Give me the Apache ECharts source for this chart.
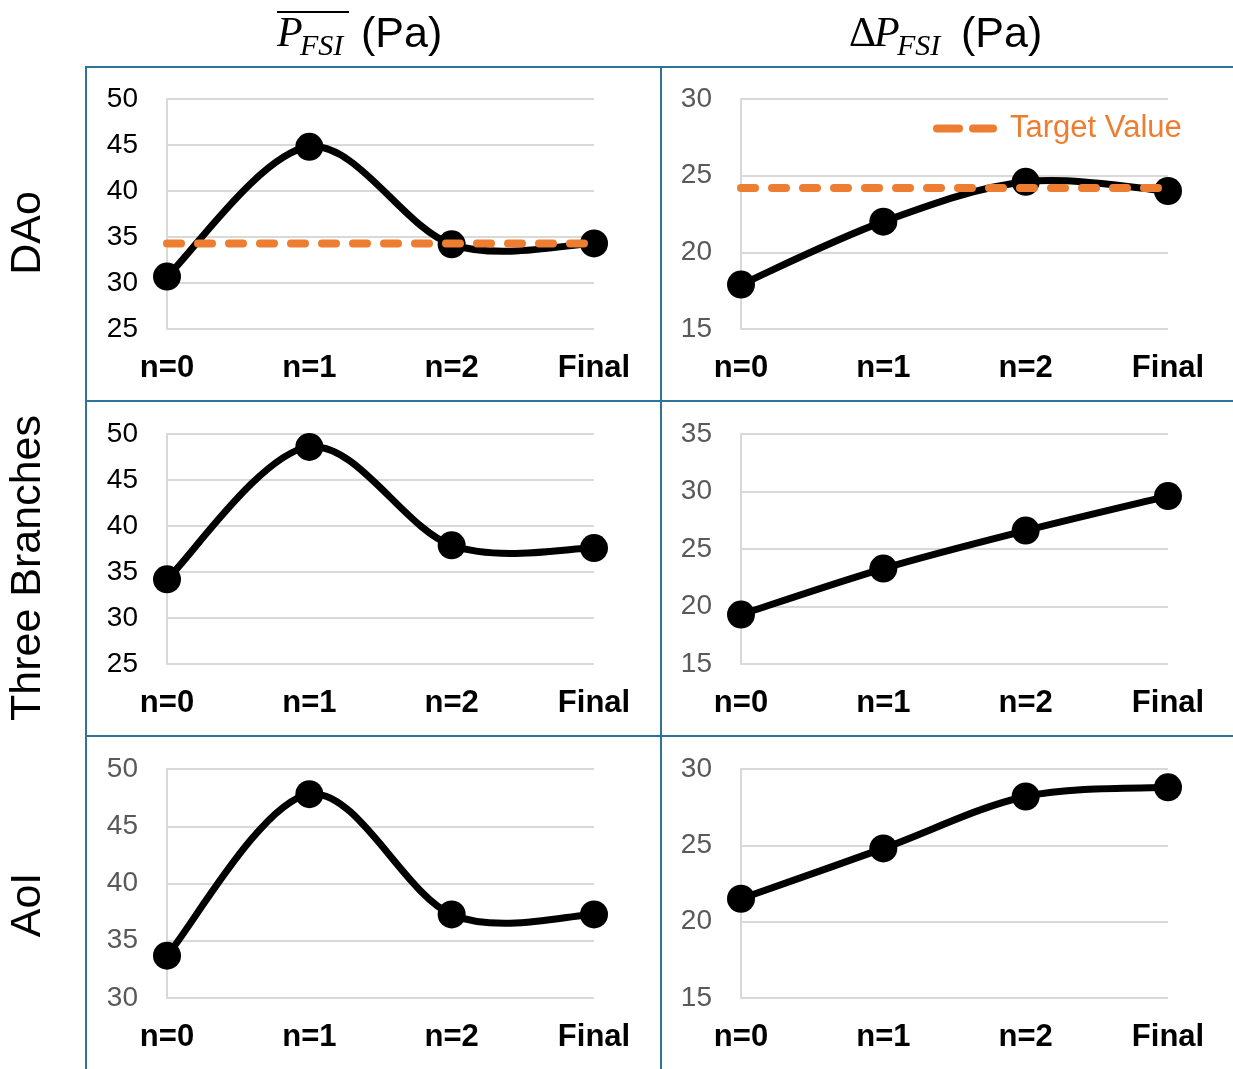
<!DOCTYPE html>
<html><head><meta charset="utf-8">
<script src="https://cdn.jsdelivr.net/npm/echarts@6/dist/echarts.min.js"></script>
<style>html,body{margin:0;padding:0;background:#fff}#c{width:1233px;height:1069px}</style>
</head><body><div id="c"></div>
<script>
// ---- data ----
const categories = ['n=0', 'n=1', 'n=2', 'Final'];
const daoMean = [30.7, 44.8, 34.2, 34.3];
const daoDelta = [17.9, 22.0, 24.6, 24.0];
const threeMean = [34.2, 48.6, 37.9, 37.6];
const threeDelta = [19.3, 23.3, 26.6, 29.6];
const aoiMean = [33.7, 47.8, 37.3, 37.3];
const aoiDelta = [21.5, 24.8, 28.2, 28.8];
const targetDaoMean = [34.3, 34.3, 34.3, 34.3];
const targetDaoDelta = [24.2, 24.2, 24.2, 24.2];
const yMins = [25, 15, 25, 15, 30, 15];
const yMaxs = [50, 30, 50, 35, 50, 30];
const yStep = 5;
const rowLabels = ['DAo', 'Three Branches', 'AoI'];
const legendName = 'Target Value';

// ---- layout ----
const panelData = [daoMean, daoDelta, threeMean, threeDelta, aoiMean, aoiDelta];
const gridLeft = [167, 741];
const gridTop = [99, 434, 769];
const gridH = [230, 230, 229];
const labelColors = ['#000000', '#595959', '#000000', '#595959', '#595959', '#595959'];
const BORDER = '#2F729B';
const ORANGE = '#ED7D31';
const FONT = '"Liberation Sans", Arial, sans-serif';
const SERIF = '"Liberation Serif", "DejaVu Serif", serif';

// Excel-style smoothed segment (Bezier, 1/6 tangents) drawn through the axis scales
function smoothRenderer(arr) {
  return function (params, api) {
    const k = params.dataIndex, n = arr.length;
    if (k >= n - 1) return null;
    const c = j => { const q = Math.max(0, Math.min(n - 1, j)); return api.coord([q, arr[q]]); };
    const P0 = c(k - 1), P1 = c(k), P2 = c(k + 1), P3 = c(k + 2);
    return {
      type: 'bezierCurve',
      shape: {
        x1: P1[0], y1: P1[1], x2: P2[0], y2: P2[1],
        cpx1: P1[0] + (P2[0] - P0[0]) / 6, cpy1: P1[1] + (P2[1] - P0[1]) / 6,
        cpx2: P2[0] - (P3[0] - P1[0]) / 6, cpy2: P2[1] - (P3[1] - P1[1]) / 6
      },
      style: {stroke: '#000', lineWidth: 7, fill: null, lineCap: 'round'}
    };
  };
}

const grids = [], xAxes = [], yAxes = [], series = [];
for (let i = 0; i < 6; i++) {
  const r = Math.floor(i / 2), c = i % 2;
  grids.push({left: gridLeft[c], top: gridTop[r], width: 427, height: gridH[r], containLabel: false});
  xAxes.push({
    type: 'category', gridIndex: i, data: categories, boundaryGap: false,
    axisLine: {show: false}, axisTick: {show: false}, splitLine: {show: false},
    axisLabel: {fontFamily: FONT, fontWeight: 'bold', fontSize: 31, color: '#000', margin: 24}
  });
  yAxes.push({
    type: 'value', gridIndex: i, min: yMins[i], max: yMaxs[i], interval: yStep,
    axisLine: {show: true, lineStyle: {color: '#D9D9D9', width: 2}},
    axisTick: {show: false},
    splitLine: {show: true, lineStyle: {color: '#D9D9D9', width: 2}},
    axisLabel: {fontFamily: FONT, fontSize: 28, color: labelColors[i], margin: 29}
  });
  series.push({
    type: 'custom', coordinateSystem: 'cartesian2d', xAxisIndex: i, yAxisIndex: i,
    data: panelData[i].map((v, k) => [k, v]),
    renderItem: smoothRenderer(panelData[i]),
    z: 1, animation: false, silent: true
  });
  series.push({
    type: 'line', xAxisIndex: i, yAxisIndex: i, data: panelData[i],
    symbol: 'circle', symbolSize: 28,
    lineStyle: {opacity: 0, width: 0}, itemStyle: {color: '#000'},
    z: 2, animation: false
  });
}
[[0, targetDaoMean], [1, targetDaoDelta]].forEach(([i, d]) => {
  series.push({
    name: legendName, type: 'line', xAxisIndex: i, yAxisIndex: i, data: d,
    symbol: 'none', smooth: false,
    lineStyle: {color: ORANGE, width: 8, type: [14, 17], cap: 'round'},
    itemStyle: {color: ORANGE},
    z: 3, animation: false
  });
});

function seg(x1, y1, x2, y2, color, w) {
  return {type: 'line', shape: {x1, y1, x2, y2}, style: {stroke: color, lineWidth: w}, silent: true, z: 10};
}
function txt(x, y, text, font) {
  return {type: 'text', x, y, style: {text, font, fill: '#000', textAlign: 'left', textVerticalAlign: 'middle'}};
}
const graphics = [
  seg(86, 67, 1233, 67, BORDER, 2),
  seg(86, 401, 1233, 401, BORDER, 2),
  seg(86, 736, 1233, 736, BORDER, 2),
  seg(86, 66, 86, 1069, BORDER, 2),
  seg(661, 66, 661, 1069, BORDER, 2),
  // header 1
  txt(277, 35, 'P', 'italic 42px ' + SERIF),
  txt(300, 47, 'FSI', 'italic 30px ' + SERIF),
  txt(361, 35, '(Pa)', '43px ' + FONT),
  seg(277, 12, 349, 12, '#000', 2),
  // header 2
  txt(849, 35, '\u0394', '42px ' + SERIF),
  txt(874, 35, 'P', 'italic 42px ' + SERIF),
  txt(897, 47, 'FSI', 'italic 30px ' + SERIF),
  txt(961, 35, '(Pa)', '43px ' + FONT)
];
const rowCenters = [233, 568, 905];
rowLabels.forEach((t, k) => {
  graphics.push({type: 'text', x: 28, y: rowCenters[k], rotation: Math.PI / 2,
    style: {text: t, font: '43px ' + FONT, fill: '#000', textAlign: 'center', textVerticalAlign: 'middle'}});
});

const chart = echarts.init(document.getElementById('c'), null, {renderer: 'canvas'});
chart.setOption({
  animation: false,
  backgroundColor: '#fff',
  grid: grids, xAxis: xAxes, yAxis: yAxes, series,
  legend: {
    data: [legendName], left: 928, top: 108, selectedMode: false,
    icon: 'path://M4,0 L26,0 A4,4 0 0 1 26,8 L4,8 A4,4 0 0 1 4,0 Z M40,0 L60,0 A4,4 0 0 1 60,8 L40,8 A4,4 0 0 1 40,0 Z',
    itemWidth: 64, itemHeight: 8, itemGap: 0,
    itemStyle: {color: ORANGE},
    textStyle: {fontFamily: FONT, fontSize: 31, color: ORANGE, padding: [0, 0, 0, 8]}
  },
  graphic: graphics
});
</script></body></html>
